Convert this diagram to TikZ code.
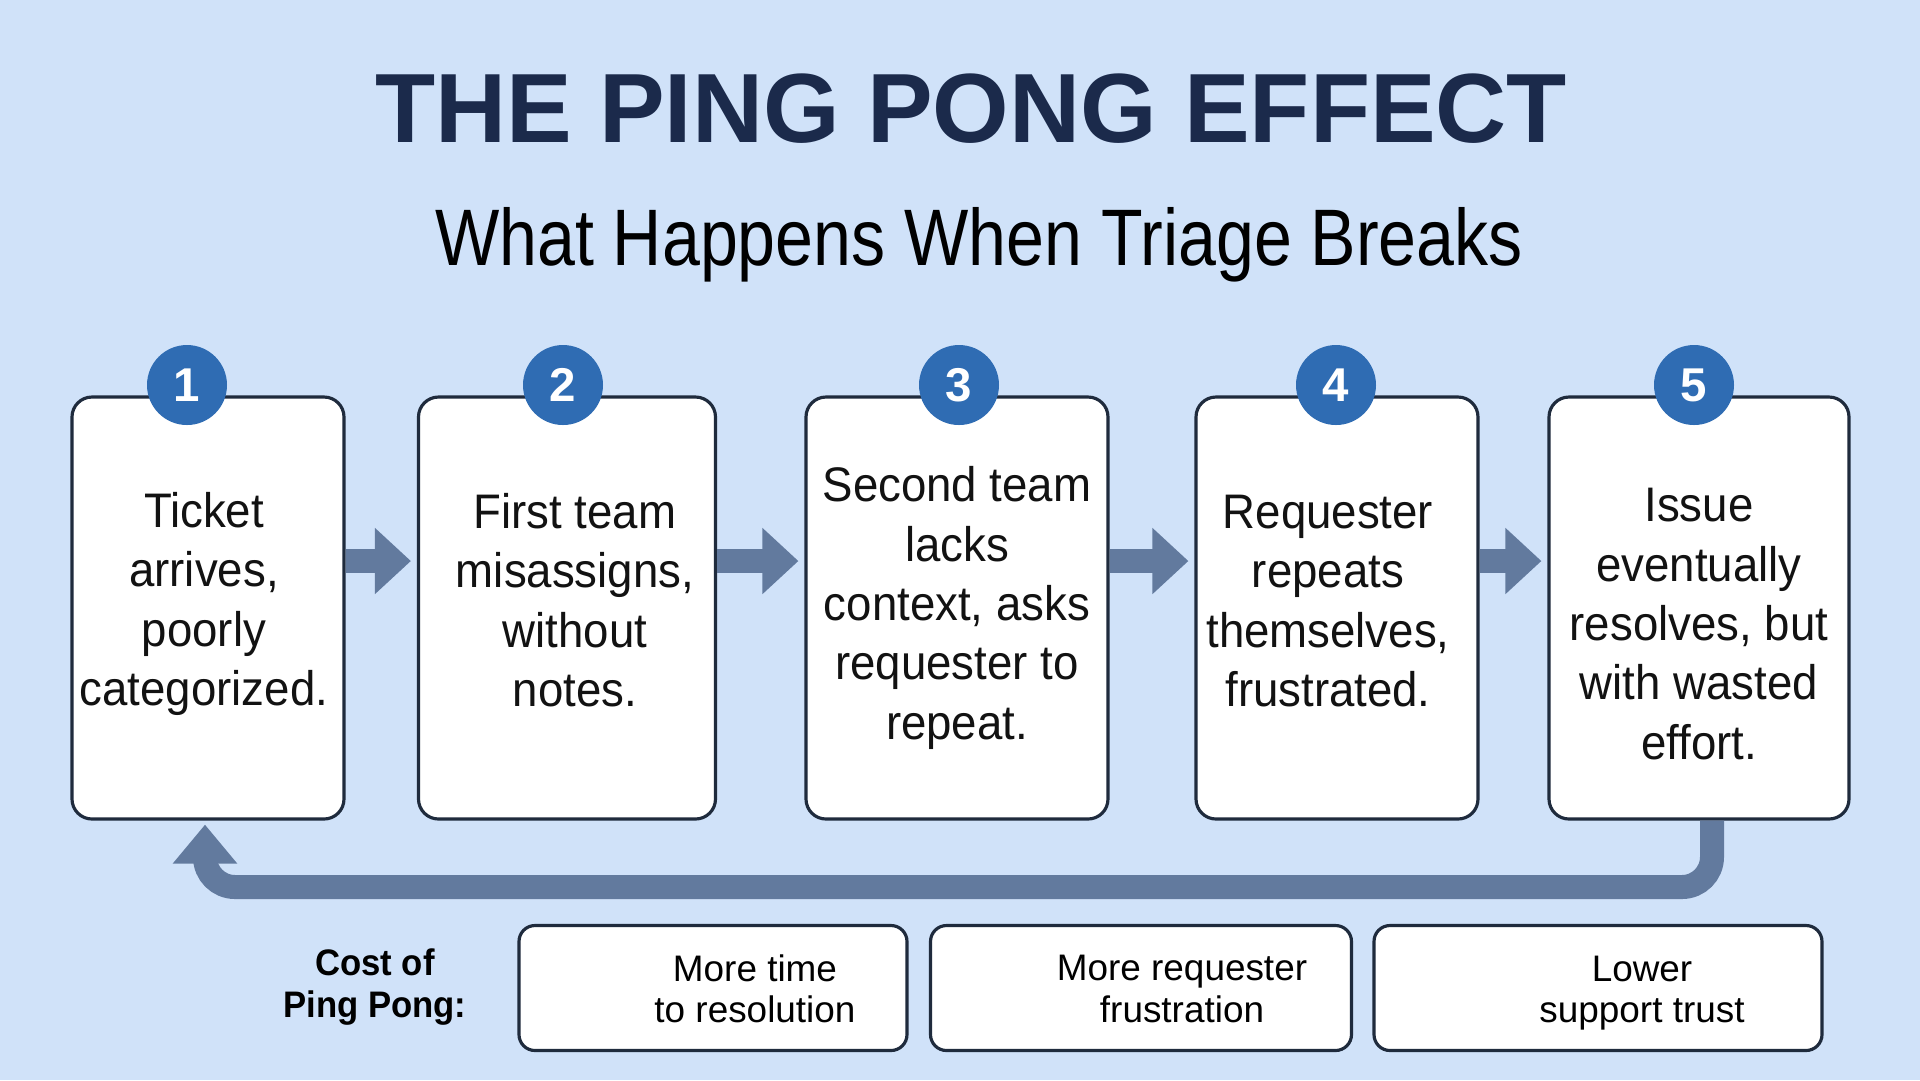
\documentclass[tikz,border=0pt]{standalone}
\usepackage{fontspec}
\setmainfont{Liberation Sans}
\newfontfamily\condfont[FakeStretch=0.94]{Liberation Sans}
\newfontfamily\narrowfont[FakeStretch=0.85]{Liberation Sans}
\usetikzlibrary{arrows.meta}

\definecolor{pagebg}{HTML}{D0E2F9}
\definecolor{titlenavy}{HTML}{1B2A4B}
\definecolor{badgeblue}{HTML}{2F6CB3}
\definecolor{flowgrey}{HTML}{627A9E}
\definecolor{boxline}{HTML}{1F2B3D}

\begin{document}
\begin{tikzpicture}[x=0.1mm, y=-0.1mm,
    stepbox/.style={draw=boxline, line width=0.9pt, fill=white, rounded corners=2mm,
        inner sep=0pt, minimum height=42.2mm},
    steptext/.style={align=center, inner sep=0pt, text=black!93,
        font=\condfont\fontsize{13.8}{16.9}\selectfont},
    badge/.style={circle, fill=badgeblue, text=white, minimum size=8mm, inner sep=0pt,
        font=\bfseries\fontsize{13.5}{14}\selectfont},
    costbox/.style={draw=boxline, line width=0.9pt, fill=white, rounded corners=1.6mm,
        minimum height=12.5mm, inner sep=0pt},
    costtext/.style={align=center, font=\fontsize{10.5}{11.8}\selectfont},
    flow/.style={draw=flowgrey, line width=2.4mm, shorten >=0.6mm,
        -{Triangle[width=6.4mm, length=3.6mm]}},
    loopback/.style={draw=flowgrey, line width=2.4mm, rounded corners=3mm, shorten >=0.4mm,
        -{Triangle[width=6.2mm, length=3.9mm]}}]

    % background and page size
    \fill[pagebg] (0,0) rectangle (1920,1080);
    \useasboundingbox (0,0) rectangle (1920,1080);

    % titles
    \node[anchor=base, text=titlenavy, font=\bfseries\fontsize{28}{30}\selectfont] (title) at (971,142) {THE PING PONG EFFECT};
    \node[anchor=base, font=\narrowfont\fontsize{22.8}{26}\selectfont] (subtitle) at (979,265) {What Happens When Triage Breaks};

    % the five steps
    \node[stepbox, minimum width=27.2mm] (b1) at (208,608) {};
    \node[stepbox, minimum width=29.7mm] (b2) at (567,608) {};
    \node[stepbox, minimum width=30.2mm] (b3) at (957,608) {};
    \node[stepbox, minimum width=28.2mm] (b4) at (1337,608) {};
    \node[stepbox, minimum width=30.0mm] (b5) at (1699,608) {};

    \node[steptext] (s1) at (204,604) {Ticket\\arrives,\\poorly\\categorized.};
    \node[steptext] (s2) at (575,600) {First team\\misassigns,\\without\\notes.};
    \node[steptext] (s3) at (957,608) {Second team\\lacks\\context, asks\\requester to\\repeat.};
    \node[steptext] (s4) at (1328,601) {Requester\\repeats\\themselves,\\frustrated.};
    \node[steptext] (s5) at (1699,624) {Issue\\eventually\\resolves, but\\with wasted\\effort.};

    \node[badge] (n1) at (187,385) {1};
    \node[badge] (n2) at (563,385) {2};
    \node[badge] (n3) at (959,385) {3};
    \node[badge] (n4) at (1336,385) {4};
    \node[badge] (n5) at (1694,385) {5};

    % arrows between steps
    \coordinate (arrowrow) at (0,561);
    \draw[flow] (b1.east |- arrowrow) -- (b2.west |- arrowrow);
    \draw[flow] (b2.east |- arrowrow) -- (b3.west |- arrowrow);
    \draw[flow] (b3.east |- arrowrow) -- (b4.west |- arrowrow);
    \draw[flow] (b4.east |- arrowrow) -- (b5.west |- arrowrow);

    % back to the start
    \coordinate (loopR) at (1712,887);
    \coordinate (loopL) at (205,887);
    \draw[loopback] (b5.south -| loopR) -- (loopR) -- (loopL) -- (b1.south -| loopL);

    % costs
    \node[align=center, font=\condfont\bfseries\fontsize{10.5}{12.2}\selectfont] (costlabel) at (375,987) {Cost of\\Ping Pong:};
    \node[costbox, minimum width=38.8mm] (c1) at (713,988) {};
    \node[costbox, minimum width=42.1mm] (c2) at (1141,988) {};
    \node[costbox, minimum width=44.8mm] (c3) at (1598,988) {};
    \node[costtext] (t1) at (755,989) {More time\\to resolution};
    \node[costtext] (t2) at (1182,989) {More requester\\frustration};
    \node[costtext] (t3) at (1642,993) {Lower\\support trust};
\end{tikzpicture}
\end{document}
